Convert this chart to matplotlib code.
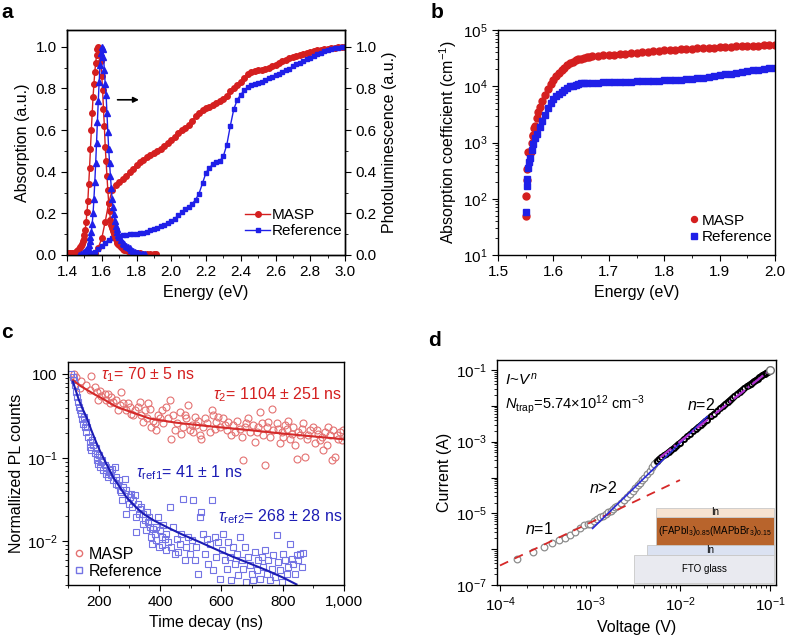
import matplotlib
matplotlib.use('Agg')
import matplotlib.pyplot as plt
from matplotlib.ticker import MultipleLocator, LogLocator, FixedLocator, FixedFormatter, NullFormatter, FuncFormatter
from matplotlib.patches import Rectangle
from matplotlib.lines import Line2D

plt.rcParams['font.family'] = ['Liberation Sans', 'DejaVu Sans']
plt.rcParams['mathtext.fontset'] = 'custom'
plt.rcParams['mathtext.rm'] = 'Liberation Sans'
plt.rcParams['mathtext.it'] = 'Liberation Sans:italic'
plt.rcParams['mathtext.bf'] = 'Liberation Sans:bold'
plt.rcParams['font.size'] = 11
plt.rcParams['axes.linewidth'] = 1.0
plt.rcParams['xtick.major.size'] = 4
plt.rcParams['ytick.major.size'] = 4
plt.rcParams['xtick.minor.size'] = 2
plt.rcParams['ytick.minor.size'] = 2

RED = '#d41f1f'
BLUE = '#1f1fe8'
LRED = '#e47272'
LBLUE = '#7474e4'
FRED = '#d42a2a'
FBLUE = '#1c1cb4'

# ---------------- panel a data ----------------
pl_E_masp = [1.40, 1.41, 1.42, 1.43, 1.44, 1.450, 1.455, 1.460, 1.465, 1.470, 1.475, 1.480, 1.485, 1.490,
             1.495, 1.500, 1.505, 1.510, 1.515, 1.520, 1.525, 1.530, 1.535, 1.540, 1.545, 1.550, 1.555,
             1.560, 1.565, 1.570, 1.575, 1.580, 1.585, 1.590, 1.595, 1.600, 1.605, 1.610, 1.615, 1.620,
             1.625, 1.630, 1.635, 1.640, 1.645, 1.650, 1.655, 1.660, 1.665, 1.670, 1.675, 1.680, 1.685,
             1.690, 1.695, 1.700, 1.710, 1.720, 1.730, 1.740, 1.750, 1.760, 1.770, 1.780, 1.790, 1.800,
             1.820, 1.840, 1.860, 1.880, 1.900, 1.910]
pl_masp = [0.010, 0.010, 0.010, 0.010, 0.012, 0.015, 0.017, 0.020, 0.025, 0.030, 0.037, 0.045, 0.055, 0.065,
           0.078, 0.095, 0.120, 0.160, 0.205, 0.260, 0.340, 0.420, 0.510, 0.600, 0.680, 0.760, 0.820,
           0.880, 0.920, 0.960, 0.990, 1.000, 0.990, 0.960, 0.930, 0.860, 0.790, 0.700, 0.620, 0.520,
           0.450, 0.380, 0.310, 0.250, 0.210, 0.170, 0.145, 0.130, 0.115, 0.100, 0.087, 0.075, 0.066,
           0.058, 0.052, 0.046, 0.038, 0.031, 0.026, 0.022, 0.019, 0.016, 0.014, 0.012, 0.011, 0.010,
           0.008, 0.007, 0.006, 0.006, 0.005, 0.005]
pl_E_ref = [1.470, 1.480, 1.490, 1.500, 1.510, 1.520, 1.525, 1.530, 1.535, 1.540, 1.545, 1.550, 1.555,
            1.560, 1.565, 1.570, 1.575, 1.580, 1.585, 1.590, 1.595, 1.600, 1.605, 1.610, 1.615, 1.620,
            1.625, 1.630, 1.635, 1.640, 1.645, 1.650, 1.655, 1.660, 1.665, 1.670, 1.675, 1.680, 1.685,
            1.690, 1.695, 1.700, 1.710, 1.720, 1.730, 1.740, 1.750, 1.760, 1.770, 1.780, 1.790, 1.800,
            1.810, 1.820, 1.830, 1.840, 1.850]
pl_ref = [0.000, 0.005, 0.010, 0.015, 0.025, 0.040, 0.050, 0.065, 0.085, 0.110, 0.150, 0.200, 0.270,
          0.350, 0.440, 0.540, 0.640, 0.740, 0.830, 0.910, 0.970, 1.000, 0.990, 0.950, 0.890, 0.820,
          0.770, 0.680, 0.590, 0.510, 0.440, 0.380, 0.320, 0.270, 0.230, 0.195, 0.165, 0.140, 0.125,
          0.110, 0.098, 0.088, 0.072, 0.060, 0.052, 0.045, 0.038, 0.032, 0.026, 0.020, 0.016, 0.012,
          0.009, 0.007, 0.005, 0.004, 0.003]
abs_E = [1.54, 1.56, 1.58, 1.60, 1.62, 1.64, 1.66, 1.68, 1.70, 1.72, 1.74, 1.76, 1.78, 1.80, 1.82, 1.84,
         1.86, 1.88, 1.90, 1.92, 1.94, 1.96, 1.98, 2.00, 2.02, 2.04, 2.06, 2.08, 2.10, 2.12, 2.14, 2.16,
         2.18, 2.20, 2.22, 2.24, 2.26, 2.28, 2.30, 2.32, 2.34, 2.36, 2.38, 2.40, 2.42, 2.44, 2.46, 2.48,
         2.50, 2.52, 2.54, 2.56, 2.58, 2.60, 2.62, 2.64, 2.66, 2.68, 2.70, 2.72, 2.74, 2.76, 2.78, 2.80,
         2.82, 2.84, 2.86, 2.88, 2.90, 2.92, 2.94, 2.96, 2.98, 3.00]
abs_masp = [0.000, 0.010, 0.035, 0.080, 0.160, 0.250, 0.310, 0.335, 0.350, 0.365, 0.380, 0.400, 0.415,
            0.430, 0.445, 0.455, 0.470, 0.480, 0.490, 0.500, 0.510, 0.525, 0.540, 0.550, 0.565, 0.585,
            0.600, 0.610, 0.625, 0.645, 0.665, 0.680, 0.695, 0.705, 0.710, 0.720, 0.730, 0.740, 0.750,
            0.765, 0.785, 0.800, 0.815, 0.830, 0.850, 0.870, 0.880, 0.885, 0.890, 0.890, 0.893, 0.900,
            0.905, 0.912, 0.920, 0.930, 0.937, 0.945, 0.950, 0.955, 0.960, 0.965, 0.970, 0.975, 0.978,
            0.982, 0.985, 0.988, 0.990, 0.992, 0.995, 0.997, 0.999, 1.000]
abs_E_ref = [1.50, 1.52] + abs_E
abs_ref = [0.000, 0.003, 0.008, 0.015, 0.030, 0.045, 0.060, 0.073, 0.083, 0.089, 0.093, 0.096, 0.098,
           0.100, 0.100, 0.102, 0.105, 0.108, 0.112, 0.118, 0.123, 0.130, 0.138, 0.145, 0.153, 0.163,
           0.175, 0.190, 0.205, 0.220, 0.232, 0.245, 0.265, 0.295, 0.345, 0.395, 0.420, 0.435, 0.445,
           0.452, 0.475, 0.530, 0.620, 0.700, 0.745, 0.770, 0.790, 0.805, 0.815, 0.820, 0.825, 0.830,
           0.840, 0.848, 0.855, 0.862, 0.870, 0.878, 0.887, 0.895, 0.905, 0.915, 0.923, 0.930, 0.940,
           0.948, 0.955, 0.963, 0.970, 0.977, 0.983, 0.988, 0.992, 0.995, 0.998, 1.000]

# ---------------- panel b data ----------------
b_E_masp = [1.5500, 1.5505, 1.5520, 1.5530, 1.5547, 1.5575, 1.5595, 1.5610, 1.5625, 1.5640, 1.5650, 1.5670,
            1.5700, 1.5730, 1.5760, 1.5800, 1.5850, 1.5900, 1.5950, 1.6000, 1.6050, 1.6100, 1.6150,
            1.6200, 1.6250, 1.6300, 1.6350, 1.6400, 1.6450, 1.6500, 1.6550, 1.6600, 1.6650, 1.6700,
            1.6800, 1.6900, 1.7000, 1.7100, 1.7200, 1.7300, 1.7400, 1.7500, 1.7600, 1.7700, 1.7800,
            1.7900, 1.8000, 1.8100, 1.8200, 1.8300, 1.8400, 1.8500, 1.8600, 1.8700, 1.8800, 1.8900,
            1.9000, 1.9100, 1.9200, 1.9300, 1.9400, 1.9500, 1.9600, 1.9700, 1.9800, 1.9900, 2.0000]
b_masp = [49, 112, 215, 340, 680, 680, 690, 1000, 1300, 1350, 1800, 2000,
          2700, 3500, 4300, 5500, 7000, 8800, 11000, 13000, 15500, 17500, 19500,
          21500, 23500, 25500, 27500, 29000, 30000, 31000, 32000, 32800, 33500, 34000,
          35000, 35500, 36000, 36500, 37000, 37700, 38500, 39200, 40000, 41000, 42000,
          42800, 43500, 44200, 45000, 45500, 46000, 46500, 47000, 47500, 48000, 48500,
          49000, 49700, 50500, 51000, 51500, 52000, 52500, 53000, 53500, 53800, 54000]
b_E_ref = [1.5500, 1.5520, 1.5530, 1.5547, 1.5560, 1.5580, 1.5610, 1.5640, 1.5670, 1.5700, 1.5750,
           1.5800, 1.5850, 1.5900, 1.5950, 1.6000, 1.6050, 1.6100, 1.6150, 1.6200, 1.6250, 1.6300,
           1.6350, 1.6400, 1.6450, 1.6500, 1.6550, 1.6600, 1.6700, 1.6800, 1.6900, 1.7000, 1.7100,
           1.7200, 1.7300, 1.7400, 1.7500, 1.7600, 1.7700, 1.7800, 1.7900, 1.8000, 1.8100, 1.8200,
           1.8300, 1.8400, 1.8500, 1.8600, 1.8700, 1.8800, 1.8900, 1.9000, 1.9100, 1.9200, 1.9300,
           1.9400, 1.9500, 1.9600, 1.9700, 1.9800, 1.9900, 2.0000]
b_ref = [58, 170, 225, 350, 450, 520, 735, 950, 1180, 1400, 1900,
         2400, 3100, 4050, 5000, 5900, 6600, 7200, 8000, 8700, 9300, 9900,
         10300, 10700, 11000, 11200, 11300, 11400, 11500, 11600, 11700, 11750, 11800,
         11900, 12000, 12100, 12200, 12300, 12400, 12500, 12600, 12700, 12800, 12950,
         13100, 13300, 13500, 13800, 14200, 14700, 15200, 15700, 16200, 16800, 17400,
         18000, 18600, 19200, 19800, 20300, 20800, 21300]

# ---------------- panel c data ----------------
c_t_masp = [118, 127, 144, 176, 160, 171, 187, 193, 203, 209, 220, 225, 231, 241, 247, 258, 269, 274, 280,
            290, 296, 301, 312, 318, 329, 334, 339, 345, 356, 361, 367, 372, 378, 388, 394, 405, 410, 421,
            427, 432, 437, 443, 454, 465, 470, 475, 486, 492, 503, 508, 514, 524, 530, 535, 541, 552, 563,
            568, 573, 584, 590, 595, 606, 617, 622, 633, 639, 650, 661, 666, 671, 677, 688, 693, 704, 710,
            715, 726, 731, 737, 742, 748, 758, 764, 769, 780, 791, 797, 802, 813, 818, 824, 835, 840, 846,
            851, 856, 867, 873, 878, 889, 900, 905, 916, 922, 933, 938, 943, 954, 960, 965, 971, 982, 987,
            992, 998,
            138, 198, 236, 263, 307, 350, 383, 399, 448, 481, 497, 519, 546, 579, 611, 644, 682, 720, 753,
            786, 807, 829, 862, 884, 911, 927, 949, 976]
c_masp = [1.01, 0.94, 0.84, 0.955, 0.745, 0.66, 0.71, 0.62, 0.64, 0.55, 0.59, 0.50, 0.59, 0.54, 0.47, 0.49,
          0.43, 0.62, 0.45, 0.37, 0.45, 0.41, 0.325, 0.37, 0.41, 0.47, 0.325, 0.27, 0.30, 0.45, 0.39, 0.235,
          0.28, 0.215, 0.325, 0.37, 0.26, 0.41, 0.30, 0.49, 0.17, 0.325, 0.26, 0.356, 0.196, 0.235, 0.30,
          0.43, 0.247, 0.205, 0.31, 0.28, 0.187, 0.17, 0.235, 0.26, 0.205, 0.37, 0.325, 0.27, 0.31, 0.235,
          0.30, 0.215, 0.27, 0.187, 0.247, 0.28, 0.225, 0.179, 0.094, 0.235, 0.30, 0.205, 0.247, 0.156,
          0.205, 0.356, 0.26, 0.187, 0.082, 0.235, 0.179, 0.39, 0.215, 0.26, 0.149, 0.205, 0.179, 0.225,
          0.28, 0.17, 0.235, 0.142, 0.098, 0.205, 0.187, 0.26, 0.103, 0.17, 0.215, 0.235, 0.149, 0.196,
          0.163, 0.124, 0.205, 0.142, 0.187, 0.094, 0.215, 0.103, 0.17, 0.205, 0.163, 0.215,
          0.68, 0.49, 0.45, 0.37, 0.34, 0.37, 0.26, 0.30, 0.215, 0.325, 0.215, 0.247, 0.30, 0.225, 0.247,
          0.205, 0.26, 0.235, 0.27, 0.225, 0.247, 0.196, 0.225, 0.187, 0.215, 0.179, 0.235, 0.187]
c_t_ref = [111, 116, 118, 122, 127, 129, 133, 136, 138, 144, 147, 149, 154, 158, 160, 165, 171, 173, 176,
           182, 187, 193, 195, 198, 203, 209, 214, 220, 225, 231, 236, 241, 247, 252, 258, 263, 269, 274,
           280, 285, 290, 296, 301, 307, 312, 318, 323, 329, 334, 339, 345, 350, 356, 361, 367, 372, 378,
           383, 388, 394, 399, 405, 410, 416, 421, 427, 432, 437, 443, 448, 454, 459, 465, 470, 475, 481,
           486, 492, 497, 503, 508, 514, 519, 524, 530, 535, 541, 546, 552, 557, 563, 568, 573, 579, 584,
           590, 595, 601, 606, 612, 617, 622, 628, 633, 639, 644, 650, 655, 661, 666, 671, 677, 682, 688,
           693, 699, 704, 710, 715, 720, 726, 731, 737, 742, 748, 753, 758, 764, 769, 775, 780, 786, 791,
           797, 802, 807, 813, 818, 824, 829, 835, 840, 846, 851, 856, 862, 867,
           151, 162, 179, 190, 201, 212, 223, 234, 245, 256, 267, 277, 288, 299, 310, 321, 332, 343, 354,
           364, 375, 386, 397, 408, 419]
c_ref = [1.01, 0.94, 0.855, 0.745, 0.62, 0.54, 0.47, 0.41, 0.373, 0.34, 0.296, 0.258, 0.235, 0.27, 0.205,
         0.179, 0.156, 0.136, 0.124, 0.142, 0.113, 0.103, 0.094, 0.0855, 0.078, 0.0895, 0.071, 0.0817,
         0.0649, 0.0592, 0.071, 0.062, 0.054, 0.078, 0.0492, 0.047, 0.041, 0.039, 0.0449, 0.0565, 0.0215,
         0.0373, 0.034, 0.0373, 0.031, 0.0356, 0.0129, 0.0283, 0.0247, 0.0258, 0.0215, 0.0179, 0.0225,
         0.0171, 0.0149, 0.0113, 0.0142, 0.0124, 0.0103, 0.0196, 0.0136, 0.00895, 0.0156, 0.0108, 0.0124,
         0.0098, 0.0258, 0.00855, 0.0149, 0.0071, 0.0108, 0.00745, 0.0094, 0.0124, 0.0325, 0.0059,
         0.00855, 0.0113, 0.0071, 0.0103, 0.031, 0.0059, 0.00855, 0.0041, 0.0196, 0.0225, 0.0124, 0.0071,
         0.0108, 0.0054, 0.0094, 0.031, 0.00449, 0.0113, 0.0065, 0.0098, 0.00356, 0.0078, 0.0124, 0.0059,
         0.0047, 0.0098, 0.0065, 0.0034, 0.00855, 0.0054, 0.0071, 0.0039, 0.0113, 0.0059, 0.0047,
         0.00855, 0.00325, 0.0065, 0.00515, 0.0041, 0.0034, 0.00745, 0.00449, 0.0059, 0.00356, 0.0065,
         0.0049, 0.0078, 0.0041, 0.0059, 0.0034, 0.0047, 0.0068, 0.0037, 0.0118, 0.00565, 0.00449,
         0.00325, 0.0071, 0.0059, 0.0041, 0.0049, 0.0094, 0.0062, 0.0054, 0.0041, 0.0068, 0.0059, 0.0071,
         0.0049, 0.0072,
         0.31, 0.235, 0.163, 0.13, 0.108, 0.094, 0.078, 0.068, 0.074, 0.059, 0.054, 0.031, 0.041, 0.0283,
         0.0258, 0.0196, 0.0215, 0.0163, 0.0136, 0.0196, 0.0094, 0.0149, 0.00855, 0.0113, 0.0078]
c_fit_t_masp = [116, 140, 160, 182, 210, 258, 310, 367, 450, 530, 610, 693, 775, 856, 930, 1000]
c_fit_masp = [0.855, 0.73, 0.66, 0.59, 0.52, 0.41, 0.35, 0.296, 0.265, 0.246, 0.23, 0.215, 0.20, 0.187,
              0.177, 0.167]
c_fit_t_ref = [116, 125, 135, 147, 160, 175, 190, 203, 225, 247, 270, 290, 320, 345, 380, 421, 470, 530,
               580, 639, 700, 748, 800, 845]
c_fit_ref = [0.82, 0.65, 0.50, 0.39, 0.31, 0.22, 0.16, 0.124, 0.085, 0.059, 0.044, 0.034, 0.026, 0.0215,
             0.0178, 0.0149, 0.0122, 0.0098, 0.0081, 0.0065, 0.0053, 0.0045, 0.0037, 0.00305]

# ---------------- panel d data ----------------
d_V = [1.53e-4, 2.3e-4, 3.1e-4, 3.8e-4, 4.5e-4, 5.3e-4, 6.0e-4, 6.8e-4, 7.7e-4, 8.6e-4, 9.6e-4,
       1.0e-3, 1.1e-3, 1.2e-3, 1.3e-3, 1.4e-3, 1.5e-3, 1.6e-3, 1.7e-3, 1.8e-3, 1.9e-3, 2.0e-3, 2.2e-3,
       2.4e-3, 2.6e-3, 2.8e-3, 3.0e-3, 3.2e-3, 3.4e-3, 3.6e-3, 3.8e-3, 4.0e-3, 4.3e-3, 4.6e-3, 4.9e-3,
       5.2e-3, 5.5e-3, 5.8e-3, 6.2e-3, 6.6e-3, 7.0e-3, 7.5e-3, 8.0e-3, 8.5e-3, 9.0e-3, 9.5e-3, 1.0e-2,
       1.1e-2, 1.2e-2, 1.3e-2, 1.4e-2, 1.5e-2, 1.6e-2, 1.7e-2, 1.8e-2, 1.9e-2, 2.0e-2, 2.2e-2, 2.4e-2,
       2.6e-2, 2.8e-2, 3.0e-2, 3.2e-2, 3.4e-2, 3.6e-2, 3.8e-2, 4.0e-2, 4.3e-2, 4.6e-2, 4.9e-2, 5.2e-2,
       5.5e-2, 5.8e-2, 6.1e-2, 6.4e-2, 6.7e-2, 7.0e-2, 7.3e-2, 7.6e-2, 7.9e-2, 8.2e-2, 8.5e-2, 8.8e-2,
       9.1e-2, 9.4e-2, 9.7e-2, 1.0e-1]
d_I = [5.2e-7, 8.4e-7, 1.16e-6, 1.45e-6, 1.8e-6, 2.1e-6, 2.45e-6, 3.0e-6, 3.8e-6, 4.7e-6, 5.2e-6,
       5.2e-6, 6.0e-6, 6.9e-6, 7.7e-6, 8.6e-6, 9.5e-6, 1.06e-5, 1.19e-5, 1.32e-5, 1.47e-5, 1.62e-5, 1.93e-5,
       2.4e-5, 2.9e-5, 3.5e-5, 4.2e-5, 5.0e-5, 6.0e-5, 7.1e-5, 8.4e-5, 9.8e-5, 1.23e-4, 1.55e-4, 1.92e-4,
       2.36e-4, 2.85e-4, 3.26e-4, 3.68e-4, 4.13e-4, 4.58e-4, 5.25e-4, 5.97e-4, 6.7e-4, 7.55e-4, 8.45e-4,
       9.4e-4, 1.16e-3, 1.40e-3, 1.66e-3, 1.95e-3, 2.26e-3, 2.59e-3, 2.94e-3, 3.32e-3, 3.72e-3, 4.15e-3,
       5.06e-3, 6.12e-3, 7.3e-3, 8.57e-3, 9.97e-3, 1.15e-2, 1.31e-2, 1.48e-2, 1.66e-2, 1.84e-2, 2.14e-2,
       2.47e-2, 2.81e-2, 3.17e-2, 3.49e-2, 3.84e-2, 4.2e-2, 4.57e-2, 4.96e-2, 5.36e-2, 5.77e-2, 6.2e-2,
       6.65e-2, 7.1e-2, 7.55e-2, 8.0e-2, 8.5e-2, 9.0e-2, 9.55e-2, 1.0e-1]
d_fit1_V = [1.0e-4, 1.0e-2]
d_fit1_I = [3.5e-7, 8.5e-5]
d_fit2_V = [1.07e-3, 2.0e-2]
d_fit2_I = [3.8e-6, 5.0e-3]
d_fit3_V = [6.0e-3, 9.5e-2]
d_fit3_I = [3.6e-4, 9.0e-2]

W, H = 788, 640
fig = plt.figure(figsize=(W / 100, H / 100), dpi=100)


def box(l, r, t, b):
    return [l / W, 1 - b / H, (r - l) / W, (b - t) / H]


# ================= panel a =================
ax = fig.add_axes(box(67, 345, 30, 255))
axr = ax.twinx()
ms = 4.0
ax.plot(abs_E, abs_masp, '-o', color=RED, ms=ms, lw=1, mec=RED)
ax.plot(abs_E_ref, abs_ref, '-s', color=BLUE, ms=ms - 0.5, lw=1, mec=BLUE)
axr.plot(pl_E_masp, pl_masp, '-o', color=RED, ms=ms, lw=1, mec=RED)
axr.plot(pl_E_ref, pl_ref, '-^', color=BLUE, ms=ms, lw=1, mec=BLUE)
for a in (ax, axr):
    a.set_ylim(0, 1.08)
    a.yaxis.set_major_locator(MultipleLocator(0.2))
    a.yaxis.set_minor_locator(MultipleLocator(0.1))
    a.yaxis.set_major_formatter(FuncFormatter(lambda v, p: f'{v:.1f}'))
ax.set_xlim(1.4, 3.0)
ax.xaxis.set_major_locator(MultipleLocator(0.2))
ax.xaxis.set_minor_locator(MultipleLocator(0.1))
ax.xaxis.set_major_formatter(FuncFormatter(lambda v, p: f'{v:.1f}'))
ax.set_xlabel('Energy (eV)', fontsize=11.5, labelpad=4)
ax.set_ylabel('Absorption (a.u.)', fontsize=11.5, labelpad=4)
axr.set_ylabel('Photoluminescence (a.u.)', fontsize=11.5, labelpad=4)
ax.annotate('', xy=(1.83, 0.745), xytext=(1.675, 0.745),
            arrowprops=dict(arrowstyle='-|>', color='black', lw=1.2, mutation_scale=8))
hl = [Line2D([], [], color=RED, marker='o', ms=ms, lw=1),
      Line2D([], [], color=BLUE, marker='s', ms=ms - 0.5, lw=1)]
ax.legend(hl, ['MASP', 'Reference'], loc='lower right', bbox_to_anchor=(1.0, 0.06), frameon=False,
          handlelength=1.6, handletextpad=0.1, labelspacing=0.15, borderpad=0.1, borderaxespad=0.1,
          fontsize=11)

# ================= panel b =================
bx = fig.add_axes(box(498, 775, 30, 255))
bx.set_yscale('log')
bx.plot(b_E_masp, b_masp, 'o', color=RED, ms=5.0, mec=RED)
bx.plot(b_E_ref, b_ref, 's', color=BLUE, ms=4.3, mec=BLUE)
bx.set_xlim(1.5, 2.0)
bx.set_ylim(10, 1e5)
bx.xaxis.set_major_locator(MultipleLocator(0.1))
bx.xaxis.set_minor_locator(MultipleLocator(0.05))
bx.xaxis.set_major_formatter(FuncFormatter(lambda v, p: f'{v:.1f}'))
bx.yaxis.set_major_locator(LogLocator(base=10, numticks=10))
bx.yaxis.set_minor_locator(LogLocator(base=10, subs=range(2, 10), numticks=20))
bx.yaxis.set_minor_formatter(NullFormatter())
bx.set_xlabel('Energy (eV)', fontsize=11.5, labelpad=4)
bx.set_ylabel('Absorption coefficient (cm$^{-1}$)', fontsize=11.5, labelpad=3)
hb = [Line2D([], [], color=RED, marker='o', ms=4.3, lw=0),
      Line2D([], [], color=BLUE, marker='s', ms=3.8, lw=0)]
bx.legend(hb, ['MASP', 'Reference'], loc='lower right', bbox_to_anchor=(1.0, 0.035), frameon=False,
          handlelength=0.6, handletextpad=0.2, labelspacing=0.15, borderpad=0.1, borderaxespad=0.1,
          fontsize=11)

# ================= panel c =================
cx = fig.add_axes(box(68, 344, 362, 585))
cx.set_yscale('log')
cx.plot(c_t_masp, c_masp, 'o', mfc='none', mec=LRED, ms=5.0, mew=0.8, clip_on=True)
cx.plot(c_t_ref, c_ref, 's', mfc='none', mec=LBLUE, ms=4.6, mew=0.8, clip_on=True)
cx.plot(c_fit_t_masp, c_fit_masp, '-', color=FRED, lw=1.5)
cx.plot(c_fit_t_ref, c_fit_ref, '-', color=FBLUE, lw=1.5)
cx.set_xlim(100, 1000)
cx.set_ylim(0.003, 1.41)
cx.xaxis.set_major_locator(MultipleLocator(200))
cx.xaxis.set_minor_locator(MultipleLocator(100))
cx.xaxis.set_major_formatter(FuncFormatter(lambda v, p: f'{int(v):,}'))
cx.yaxis.set_major_locator(FixedLocator([1, 0.1, 0.01]))
cx.yaxis.set_major_formatter(FixedFormatter(['100', '$10^{-1}$', '$10^{-2}$']))
cx.yaxis.set_minor_locator(LogLocator(base=10, subs=range(2, 10), numticks=20))
cx.yaxis.set_minor_formatter(NullFormatter())
cx.set_xlabel('Time decay (ns)', fontsize=11.5, labelpad=4)
cx.set_ylabel('Normallized PL counts', fontsize=11.5, labelpad=2)
cx.text(0.12, 0.942, r'$\tau_1$= 70 ± 5 ns', transform=cx.transAxes, color=RED, fontsize=11.5, va='center')
cx.text(0.993, 0.852, r'$\tau_2$= 1104 ± 251 ns', transform=cx.transAxes, color=RED, fontsize=11.5,
        va='center', ha='right')
cx.text(0.246, 0.502, r'$\tau_{\rm ref1}$= 41 ± 1 ns', transform=cx.transAxes, color=FBLUE, fontsize=11.5,
        va='center', ha='left')
cx.text(0.993, 0.306, r'$\tau_{\rm ref2}$= 268 ± 28 ns', transform=cx.transAxes, color=FBLUE, fontsize=11.5,
        va='center', ha='right')
hc = [Line2D([], [], color=LRED, marker='o', mfc='none', ms=4.5, lw=0),
      Line2D([], [], color=LBLUE, marker='s', mfc='none', ms=4.2, lw=0)]
cx.legend(hc, ['MASP', 'Reference'], loc='lower left', frameon=False, handlelength=0.6,
          handletextpad=0.3, labelspacing=0.1, borderpad=0.1, borderaxespad=0.3, fontsize=11.5)

# ================= panel d =================
dx = fig.add_axes(box(497, 776, 360, 585))
dx.set_xscale('log')
dx.set_yscale('log')
dx.set_xlim(10 ** -4.033, 10 ** -0.933)
dx.set_ylim(1e-7, 10 ** -0.72)
k = 37
dx.plot(d_V[11:k], d_I[11:k], '-', color='#8c8c8c', lw=3.0, zorder=2)
dx.plot(d_V[k - 1:], d_I[k - 1:], '-', color='black', lw=4.0, zorder=2)
dx.plot(d_V[:k], d_I[:k], 'o', mfc='white', mec='#8c8c8c', ms=4.8, mew=0.9, zorder=3)
dx.plot(d_V[k - 1:-1], d_I[k - 1:-1], 'o', mfc='white', mec='black', ms=3.6, mew=1.4, zorder=3)
dx.plot(d_V[-1:], d_I[-1:], 'o', mfc='white', mec='#707070', ms=5.5, mew=1.0, zorder=6)
dx.plot(d_fit1_V, d_fit1_I, '--', color='#d62828', lw=1.3, dashes=(5, 4), zorder=4)
dx.plot(d_fit2_V, d_fit2_I, '-', color='#2a2ad8', lw=1.2, zorder=4)
dx.plot(d_fit3_V, d_fit3_I, '-.', color='#b030d0', lw=1.6, zorder=5)
dx.yaxis.set_major_locator(FixedLocator([1e-7, 1e-6, 1e-5, 1e-4, 1e-3, 1e-2, 1e-1]))
dx.yaxis.set_major_formatter(FixedFormatter(['$10^{-7}$', '', '$10^{-5}$', '', '$10^{-3}$', '', '$10^{-1}$']))
dx.yaxis.set_minor_locator(LogLocator(base=10, subs=range(2, 10), numticks=20))
dx.yaxis.set_minor_formatter(NullFormatter())
dx.xaxis.set_major_locator(FixedLocator([1e-4, 1e-3, 1e-2, 1e-1]))
dx.xaxis.set_major_formatter(FixedFormatter(['$10^{-4}$', '$10^{-3}$', '$10^{-2}$', '$10^{-1}$']))
dx.xaxis.set_minor_locator(LogLocator(base=10, subs=range(2, 10), numticks=20))
dx.xaxis.set_minor_formatter(NullFormatter())
dx.set_xlabel('Voltage (V)', fontsize=11.5, labelpad=4)
dx.set_ylabel('Current (A)', fontsize=11.5, labelpad=3)
dx.text(0.03, 0.915, r'$I$~$V^{\,n}$', transform=dx.transAxes, fontsize=11, va='center')
dx.text(0.03, 0.80, r'$N_{\rm trap}$=5.74×10$^{12}$ cm$^{-3}$', transform=dx.transAxes, fontsize=10.5,
        va='center')
dx.text(0.68, 0.80, r'$n$=2', transform=dx.transAxes, fontsize=11.5, va='center')
dx.text(0.33, 0.43, r'$n$>2', transform=dx.transAxes, fontsize=11.5, va='center')
dx.text(0.10, 0.25, r'$n$=1', transform=dx.transAxes, fontsize=11.5, va='center')
# device schematic
layers = [(0.491, 0.009, 0.502, 0.124, '#e9eaf0', 'FTO glass', 'black'),
          (0.536, 0.133, 0.457, 0.045, '#dbe2f2', 'In', 'black'),
          (0.569, 0.178, 0.424, 0.123, '#b8642c', '(FAPbI$_3$)$_{0.85}$(MAPbBr$_3$)$_{0.15}$', 'black'),
          (0.569, 0.301, 0.424, 0.043, '#f6e3d2', 'In', 'black')]
for (x0, y0, w, h, col, lab, tc) in layers:
    dx.add_patch(Rectangle((x0, y0), w, h, transform=dx.transAxes, facecolor=col, edgecolor='#c8c8c8',
                           lw=0.6, zorder=7))
    dx.text(x0 + w / 2, y0 + h / 2, lab, transform=dx.transAxes, ha='center', va='center', fontsize=7,
            color=tc, zorder=8)

# panel letters
for lab, x, y in [('a', 1, 13), ('b', 431, 13), ('c', 1, 333), ('d', 428, 340)]:
    fig.text(x / W, 1 - y / H, lab, fontsize=15, fontweight='bold', va='center', ha='left')

fig.savefig('out.png', dpi=100)
